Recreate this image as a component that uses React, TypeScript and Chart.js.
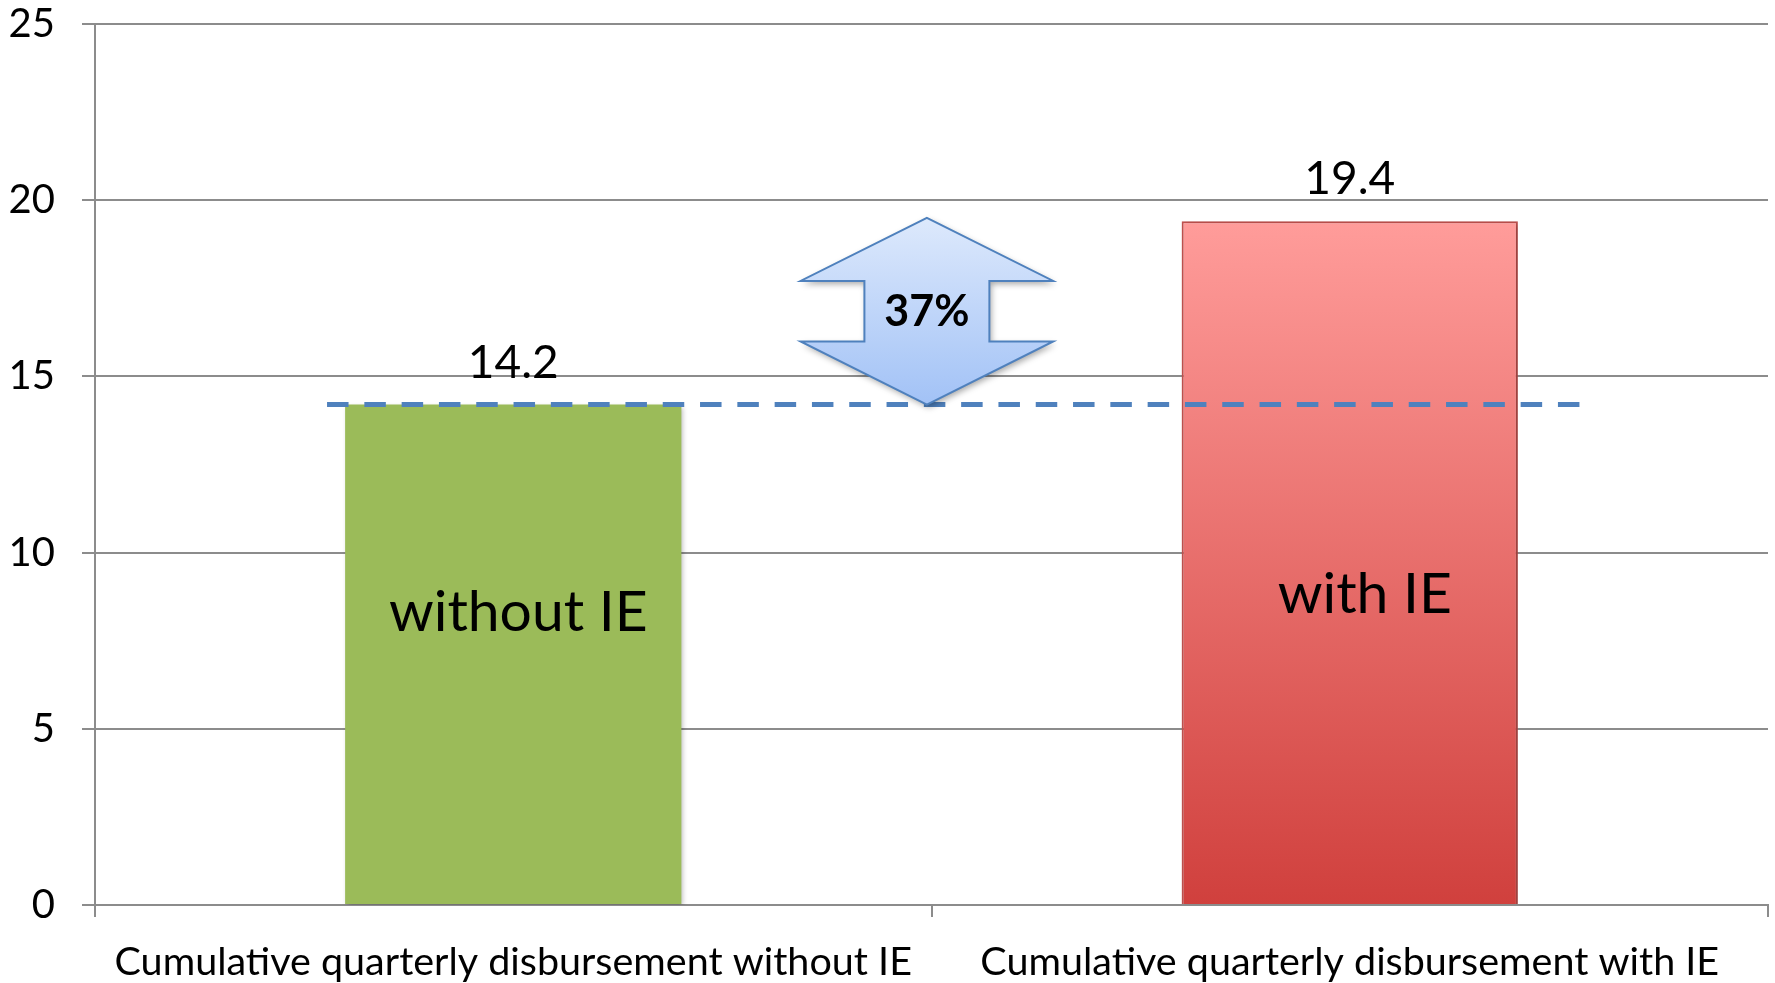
import React, { useEffect, useRef } from "react";
import { Chart, registerables } from "chart.js";

Chart.register(...registerables);

const categories = [
  "Cumulative quarterly disbursement without IE",
  "Cumulative quarterly disbursement with IE",
];
const values = [14.2, 19.4];
const valueLabels = ["14.2", "19.4"];
const barNames = ["without IE", "with IE"];
const yTickValues = [0, 5, 10, 15, 20, 25];
const referenceValue = 14.2;
const arrowTopValue = 19.5;
const changeLabel = "37%";

const FONT = "Lato, 'Open Sans', sans-serif";

const overlayPlugin = {
  id: "overlay",
  beforeDatasetsDraw(chart: any) {
    const ctx = chart.ctx;
    ctx.save();
    ctx.shadowColor = "rgba(0,0,0,0.28)";
    ctx.shadowBlur = 5;
    ctx.shadowOffsetX = 2;
    ctx.shadowOffsetY = 2;
  },
  afterDatasetsDraw(chart: any) {
    const ctx = chart.ctx;
    ctx.restore();
    const x = chart.scales.x;
    const y = chart.scales.y;
    const c0 = x.getPixelForValue(0);
    const c1 = x.getPixelForValue(1);
    const cw = c1 - c0;
    const meta = chart.getDatasetMeta(0);

    // value labels above bars
    ctx.save();
    ctx.fillStyle = "#000";
    ctx.textAlign = "center";
    ctx.textBaseline = "alphabetic";
    ctx.font = `46px ${FONT}`;
    meta.data.forEach((bar: any, i: number) => {
      ctx.fillText(valueLabels[i], bar.x, y.getPixelForValue(values[i]) - 27);
    });
    // names inside bars
    ctx.font = `57px ${FONT}`;
    ctx.textBaseline = "middle";
    const insideY = [8.3, 8.8];
    const insideDx = [0.006, 0.018];
    meta.data.forEach((bar: any, i: number) => {
      ctx.fillText(barNames[i], bar.x + insideDx[i] * cw, y.getPixelForValue(insideY[i]));
    });
    ctx.restore();

    // dashed reference line
    const yRef = y.getPixelForValue(referenceValue);
    ctx.save();
    ctx.strokeStyle = "#4F81BD";
    ctx.lineWidth = 5;
    ctx.setLineDash([21.5, 15.8]);
    ctx.beginPath();
    ctx.moveTo(c0 - 0.2226 * cw, yRef);
    ctx.lineTo(c0 + 1.28 * cw, yRef);
    ctx.stroke();
    ctx.restore();

    // double arrow
    const ax = c0 + 0.4945 * cw;
    const headHalf = 0.151 * cw;
    const shaftHalf = 0.0747 * cw;
    const yTop = y.getPixelForValue(arrowTopValue);
    const yBot = y.getPixelForValue(referenceValue);
    const headH = y.getPixelForValue(0) - y.getPixelForValue(1.79);
    ctx.save();
    ctx.beginPath();
    ctx.moveTo(ax, yTop);
    ctx.lineTo(ax + headHalf, yTop + headH);
    ctx.lineTo(ax + shaftHalf, yTop + headH);
    ctx.lineTo(ax + shaftHalf, yBot - headH);
    ctx.lineTo(ax + headHalf, yBot - headH);
    ctx.lineTo(ax, yBot);
    ctx.lineTo(ax - headHalf, yBot - headH);
    ctx.lineTo(ax - shaftHalf, yBot - headH);
    ctx.lineTo(ax - shaftHalf, yTop + headH);
    ctx.lineTo(ax - headHalf, yTop + headH);
    ctx.closePath();
    const g = ctx.createLinearGradient(0, yTop, 0, yBot);
    g.addColorStop(0, "#dde9fc");
    g.addColorStop(1, "#a2c2f6");
    ctx.shadowColor = "rgba(0,0,0,0.35)";
    ctx.shadowBlur = 6;
    ctx.shadowOffsetX = 2;
    ctx.shadowOffsetY = 3;
    ctx.fillStyle = g;
    ctx.fill();
    ctx.shadowColor = "transparent";
    ctx.strokeStyle = "#4F81BD";
    ctx.lineWidth = 2;
    ctx.lineJoin = "miter";
    ctx.stroke();
    ctx.fillStyle = "#000";
    ctx.font = `bold 43px ${FONT}`;
    ctx.textAlign = "center";
    ctx.textBaseline = "middle";
    ctx.fillText(changeLabel, ax, (yTop + yBot) / 2 + 1);
    ctx.restore();
  },
};

export default function App() {
  const ref = useRef<HTMLCanvasElement>(null);
  useEffect(() => {
    const canvas = ref.current!;
    const chart = new Chart(canvas, {
      type: "bar",
      data: {
        labels: categories,
        datasets: [
          {
            data: values,
            backgroundColor: (c: any) => {
              if (c.dataIndex === 0) return "#9BBB59";
              const ch = c.chart;
              const ys = ch.scales && ch.scales.y;
              if (!ys) return "#E06666";
              const g = ch.ctx.createLinearGradient(0, ys.getPixelForValue(values[1]), 0, ys.getPixelForValue(0));
              g.addColorStop(0, "#FF9C9A");
              g.addColorStop(1, "#D0403D");
              return g;
            },
            borderColor: ["#9BBB59", "#C0504D"],
            borderWidth: [0, 2],
            categoryPercentage: 1,
            barPercentage: 0.402,
          },
        ],
      },
      options: {
        animation: false,
        responsive: false,
        maintainAspectRatio: false,
        layout: { padding: { top: 24, right: 7, left: 0, bottom: 0 } },
        plugins: { legend: { display: false }, tooltip: { enabled: false } },
        scales: {
          x: {
            grid: {
              offset: true,
              drawOnChartArea: false,
              drawTicks: true,
              tickLength: 12,
              color: "#8C8C8C",
              lineWidth: 2,
            },
            border: { display: true, color: "#8C8C8C", width: 2 },
            ticks: {
              color: "#000",
              font: { family: FONT, size: 39.5 },
              padding: 22,
              maxRotation: 0,
              autoSkip: false,
            },
            afterFit: (s: any) => {
              s.height = 78;
              s.paddingLeft = 0;
              s.paddingRight = 0;
            },
          },
          y: {
            min: 0,
            max: 25,
            afterBuildTicks: (s: any) => {
              s.ticks = yTickValues.map((v) => ({ value: v }));
            },
            grid: { color: "#8C8C8C", lineWidth: 2, tickLength: 13 },
            border: { display: true, color: "#8C8C8C", width: 2 },
            ticks: {
              color: "#000",
              font: { family: FONT, size: 40, lineHeight: 1.2 },
              padding: 27,
            },
            afterFit: (s: any) => {
              s.width = 95;
              s.paddingTop = 0;
              s.paddingBottom = 0;
            },
          },
        },
      },
      plugins: [overlayPlugin],
    });
    return () => chart.destroy();
  }, []);
  return (
    <div style={{ position: "absolute", left: 0, top: 0, width: 1775, height: 983, background: "#fff" }}>
      <canvas ref={ref} width={1775} height={983} style={{ display: "block" }} />
    </div>
  );
}
